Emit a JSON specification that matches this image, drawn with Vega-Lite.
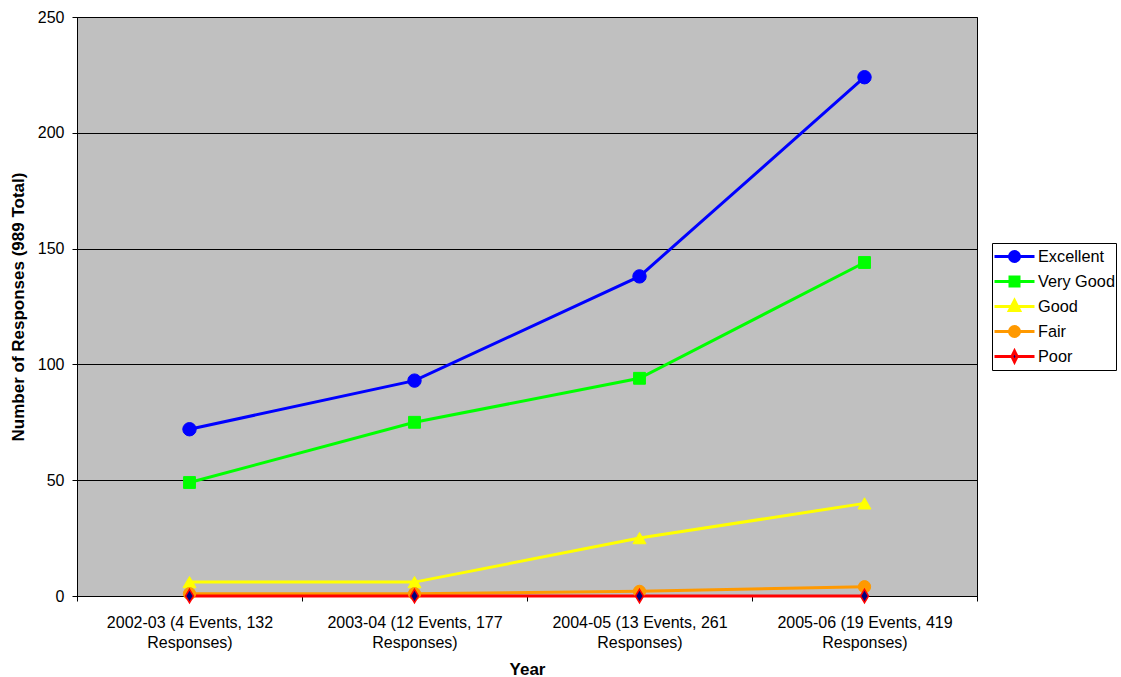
{
  "$schema": "https://vega.github.io/schema/vega-lite/v6.json",
  "width": 900,
  "height": 579,
  "autosize": {"type": "none"},
  "padding": {"left": 77, "top": 17, "right": 144, "bottom": 81},
  "background": "white",
  "config": {
    "font": "Liberation Sans",
    "view": {"fill": "#C0C0C0", "stroke": "black", "strokeWidth": 1},
    "axis": {
      "labelFont": "Liberation Sans",
      "titleFont": "Liberation Sans",
      "labelFontSize": 16,
      "titleFontSize": 17,
      "titleFontWeight": "bold",
      "labelColor": "black",
      "titleColor": "black",
      "tickColor": "black",
      "domainColor": "black",
      "tickSize": 5
    },
    "legend": {
      "labelFont": "Liberation Sans",
      "labelFontSize": 16.3,
      "labelColor": "black"
    }
  },
  "data": {
    "values": [
      {"series": "Excellent", "year": "2002-03 (4 Events, 132 Responses)", "value": 72},
      {"series": "Excellent", "year": "2003-04 (12 Events, 177 Responses)", "value": 93},
      {"series": "Excellent", "year": "2004-05 (13 Events, 261 Responses)", "value": 138},
      {"series": "Excellent", "year": "2005-06 (19 Events, 419 Responses)", "value": 224},
      {"series": "Very Good", "year": "2002-03 (4 Events, 132 Responses)", "value": 49},
      {"series": "Very Good", "year": "2003-04 (12 Events, 177 Responses)", "value": 75},
      {"series": "Very Good", "year": "2004-05 (13 Events, 261 Responses)", "value": 94},
      {"series": "Very Good", "year": "2005-06 (19 Events, 419 Responses)", "value": 144},
      {"series": "Good", "year": "2002-03 (4 Events, 132 Responses)", "value": 6},
      {"series": "Good", "year": "2003-04 (12 Events, 177 Responses)", "value": 6},
      {"series": "Good", "year": "2004-05 (13 Events, 261 Responses)", "value": 25},
      {"series": "Good", "year": "2005-06 (19 Events, 419 Responses)", "value": 40},
      {"series": "Fair", "year": "2002-03 (4 Events, 132 Responses)", "value": 1},
      {"series": "Fair", "year": "2003-04 (12 Events, 177 Responses)", "value": 1},
      {"series": "Fair", "year": "2004-05 (13 Events, 261 Responses)", "value": 2},
      {"series": "Fair", "year": "2005-06 (19 Events, 419 Responses)", "value": 4},
      {"series": "Poor", "year": "2002-03 (4 Events, 132 Responses)", "value": 0},
      {"series": "Poor", "year": "2003-04 (12 Events, 177 Responses)", "value": 0},
      {"series": "Poor", "year": "2004-05 (13 Events, 261 Responses)", "value": 0},
      {"series": "Poor", "year": "2005-06 (19 Events, 419 Responses)", "value": 0}
    ]
  },
  "encoding": {
    "x": {
      "field": "year",
      "type": "nominal",
      "sort": null,
      "bandPosition": 0.5,
      "scale": {"type": "band", "paddingInner": 0, "paddingOuter": 0},
      "axis": {
        "title": "Year",
        "labelAngle": 0,
        "tickBand": "extent",
        "labelExpr": "indexof(datum.label, ' Responses)') >= 0 ? [replace(datum.label, ' Responses)', ''), 'Responses)'] : ''",
        "labelLineHeight": 20,
        "labelPadding": 13,
        "labelLimit": 400,
        "labelOverlap": false,
        "titlePadding": 11,
        "grid": false
      }
    },
    "y": {
      "field": "value",
      "type": "quantitative",
      "scale": {"domain": [0, 250], "nice": false},
      "axis": {
        "title": "Number of Responses (989 Total)",
        "values": [0, 50, 100, 150, 200, 250],
        "grid": true,
        "gridColor": "black",
        "gridOpacity": 1,
        "gridWidth": 1,
        "labelPadding": 8,
        "titlePadding": 10
      }
    }
  },
  "layer": [
    {
      "transform": [{"filter": "false"}],
      "mark": {"type": "point", "filled": true, "opacity": 1, "strokeWidth": 3, "size": 1600},
      "encoding": {
        "stroke": {"field": "series", "type": "nominal", "title": null, "scale": {"domain": ["Excellent", "Very Good", "Good", "Fair", "Poor"], "range": ["#0000FF", "#00FF00", "#FFFF00", "#FF9900", "#FF0000"]}},
        "fill": {"field": "series", "type": "nominal", "title": null, "scale": {"domain": ["Excellent", "Very Good", "Good", "Fair", "Poor"], "range": ["#0000FF", "#00FF00", "#FFFF00", "#FF9900", "#000080"]}},
        "shape": {
          "field": "series", "type": "nominal", "title": null,
          "scale": {
            "domain": ["Excellent", "Very Good", "Good", "Fair", "Poor"],
            "range": [
              "M-1,0L1,0M0.25,0A0.25,0.25,0,1,1,-0.25,0A0.25,0.25,0,1,1,0.25,0Z",
              "M-1,0L1,0M-0.225,-0.225L0.225,-0.225L0.225,0.225L-0.225,0.225Z",
              "M-1,0L1,0M0,-0.3L0.26,0.2L-0.26,0.2Z",
              "M-1,0L1,0M0.25,0A0.25,0.25,0,1,1,-0.25,0A0.25,0.25,0,1,1,0.25,0Z",
              "M-1,0L-0.13,0M0.13,0L1,0M0,-0.27L0.13,0L0,0.27L-0.13,0Z"
            ]
          },
          "legend": {
            "title": null,
            "orient": "none",
            "legendX": 915,
            "legendY": 226,
            "padding": 1,
            "clipHeight": 25,
            "rowPadding": 0,
            "symbolSize": 1600,
            "symbolStrokeWidth": 3,
            "symbolOffset": 0,
            "labelOffset": 2,
            "strokeColor": "black",
            "fillColor": "white"
          }
        }
      }
    },
    {
      "mark": {"type": "line", "strokeWidth": 3},
      "encoding": {
        "detail": {"field": "series", "type": "nominal"},
        "stroke": {
          "condition": [
            {"test": "datum.series === 'Excellent'", "value": "#0000FF"},
            {"test": "datum.series === 'Very Good'", "value": "#00FF00"},
            {"test": "datum.series === 'Good'", "value": "#FFFF00"},
            {"test": "datum.series === 'Fair'", "value": "#FF9900"}
          ],
          "value": "#FF0000"
        }
      }
    },
    {
      "transform": [{"filter": "datum.series === 'Excellent'"}],
      "mark": {"type": "point", "shape": "circle", "filled": true, "opacity": 1, "size": 180, "strokeWidth": 1, "fill": "#0000FF", "stroke": "#0000FF"}
    },
    {
      "transform": [{"filter": "datum.series === 'Very Good'"}],
      "mark": {"type": "point", "shape": "square", "filled": true, "opacity": 1, "size": 140, "strokeWidth": 1, "fill": "#00FF00", "stroke": "#00FF00"}
    },
    {
      "transform": [{"filter": "datum.series === 'Good'"}],
      "mark": {"type": "point", "shape": "triangle-up", "filled": true, "opacity": 1, "size": 170, "strokeWidth": 1, "fill": "#FFFF00", "stroke": "#FFFF00"}
    },
    {
      "transform": [{"filter": "datum.series === 'Fair'"}],
      "mark": {"type": "point", "shape": "circle", "filled": true, "opacity": 1, "size": 150, "strokeWidth": 1, "fill": "#FF9900", "stroke": "#FF9900"}
    },
    {
      "transform": [{"filter": "datum.series === 'Poor'"}],
      "mark": {"type": "point", "shape": "M0,-1L0.6,0L0,1L-0.6,0Z", "filled": true, "opacity": 1, "size": 180, "strokeWidth": 1.5, "fill": "#000080", "stroke": "#FF0000"}
    }
  ]
}
